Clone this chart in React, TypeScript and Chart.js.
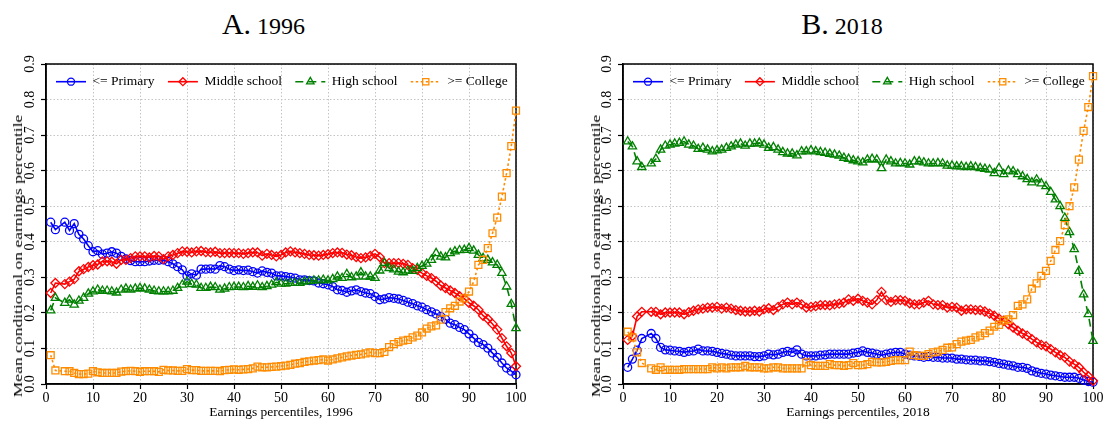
import React, { useEffect, useRef } from 'react';
import { Chart, registerables } from 'chart.js';

Chart.register(...registerables);

// ---------- data ----------
const percentiles = [
  1, 2, 3, 4, 5, 6, 7, 8, 9, 10, 11, 12, 13, 14, 15, 16, 17, 18, 19, 20,
  21, 22, 23, 24, 25, 26, 27, 28, 29, 30, 31, 32, 33, 34, 35, 36, 37, 38, 39, 40,
  41, 42, 43, 44, 45, 46, 47, 48, 49, 50, 51, 52, 53, 54, 55, 56, 57, 58, 59, 60,
  61, 62, 63, 64, 65, 66, 67, 68, 69, 70, 71, 72, 73, 74, 75, 76, 77, 78, 79, 80,
  81, 82, 83, 84, 85, 86, 87, 88, 89, 90, 91, 92, 93, 94, 95, 96, 97, 98, 99, 100,
];

const seriesNames = ['<= Primary', 'Middle school', 'High school', '>= College'];

// 1996
const primary1996 = [
  0.455, 0.434, null, 0.455, 0.432, 0.451, 0.421, 0.408, 0.389, 0.372,
  0.375, 0.365, 0.368, 0.372, 0.368, 0.359, 0.352, 0.347, 0.344, 0.344,
  0.344, 0.346, 0.348, 0.348, 0.349, 0.344, 0.338, 0.330, 0.321, 0.304,
  0.310, 0.306, 0.323, 0.323, 0.324, 0.323, 0.333, 0.330, 0.323, 0.319,
  0.321, 0.319, 0.320, 0.316, 0.312, 0.318, 0.314, 0.312, 0.304, 0.304,
  0.302, 0.300, 0.298, 0.293, 0.293, 0.291, 0.290, 0.284, 0.282, 0.279,
  0.274, 0.265, 0.263, 0.258, 0.262, 0.265, 0.260, 0.256, 0.254, 0.246,
  0.237, 0.239, 0.243, 0.241, 0.239, 0.235, 0.230, 0.226, 0.220, 0.216,
  0.209, 0.203, 0.197, 0.190, 0.182, 0.171, 0.167, 0.159, 0.153, 0.141,
  0.129, 0.117, 0.111, 0.101, 0.087, 0.075, 0.059, 0.045, 0.036, 0.026,
];
const middle1996 = [
  0.256, 0.284, null, 0.281, 0.288, 0.295, 0.317, 0.323, 0.329, 0.334,
  0.336, 0.345, 0.345, 0.344, 0.338, 0.349, 0.349, 0.354, 0.359, 0.359,
  0.359, 0.356, 0.360, 0.359, 0.351, 0.359, 0.363, 0.368, 0.373, 0.372,
  0.370, 0.373, 0.374, 0.371, 0.370, 0.372, 0.368, 0.368, 0.369, 0.368,
  0.368, 0.366, 0.368, 0.370, 0.370, 0.361, 0.366, 0.363, 0.359, 0.363,
  0.370, 0.373, 0.370, 0.368, 0.366, 0.363, 0.362, 0.361, 0.363, 0.365,
  0.368, 0.370, 0.369, 0.364, 0.362, 0.357, 0.354, 0.356, 0.360, 0.366,
  0.357, 0.340, 0.340, 0.340, 0.340, 0.338, 0.335, 0.326, 0.321, 0.312,
  0.304, 0.298, 0.289, 0.277, 0.270, 0.263, 0.256, 0.247, 0.240, 0.228,
  0.220, 0.209, 0.192, 0.183, 0.169, 0.153, 0.129, 0.106, 0.087, 0.050,
];
const high1996 = [
  0.207, 0.242, null, 0.228, 0.237, 0.223, 0.234, 0.242, 0.254, 0.260,
  0.265, 0.262, 0.262, 0.260, 0.257, 0.265, 0.268, 0.265, 0.268, 0.270,
  0.268, 0.265, 0.262, 0.260, 0.260, 0.260, 0.262, 0.270, 0.279, 0.288,
  0.281, 0.279, 0.270, 0.270, 0.273, 0.272, 0.265, 0.268, 0.272, 0.273,
  0.273, 0.272, 0.275, 0.273, 0.277, 0.272, 0.275, 0.279, 0.286, 0.282,
  0.282, 0.284, 0.284, 0.284, 0.288, 0.289, 0.291, 0.291, 0.293, 0.291,
  0.295, 0.302, 0.298, 0.309, 0.300, 0.302, 0.314, 0.302, 0.302, 0.298,
  0.319, 0.340, 0.326, 0.322, 0.316, 0.314, 0.319, 0.318, 0.326, 0.332,
  0.338, 0.349, 0.368, 0.358, 0.356, 0.368, 0.373, 0.376, 0.377, 0.382,
  0.375, 0.363, 0.354, 0.349, 0.342, 0.335, 0.312, 0.274, 0.225, 0.157,
];
const college1996 = [
  0.081, 0.038, null, 0.036, 0.036, 0.031, 0.028, 0.028, 0.029, 0.036,
  0.033, 0.031, 0.031, 0.031, 0.031, 0.035, 0.036, 0.037, 0.036, 0.034,
  0.036, 0.036, 0.036, 0.034, 0.040, 0.038, 0.038, 0.037, 0.037, 0.042,
  0.039, 0.039, 0.037, 0.037, 0.037, 0.037, 0.036, 0.039, 0.040, 0.041,
  0.040, 0.041, 0.042, 0.044, 0.049, 0.047, 0.047, 0.048, 0.049, 0.050,
  0.052, 0.054, 0.057, 0.059, 0.062, 0.064, 0.066, 0.067, 0.069, 0.066,
  0.069, 0.072, 0.075, 0.078, 0.080, 0.082, 0.083, 0.086, 0.089, 0.087,
  0.087, 0.090, 0.104, 0.112, 0.118, 0.122, 0.124, 0.131, 0.136, 0.145,
  0.156, 0.162, 0.165, 0.181, 0.202, 0.213, 0.220, 0.232, 0.241, 0.260,
  0.288, 0.335, 0.349, 0.382, 0.424, 0.468, 0.527, 0.593, 0.669, 0.769,
];

// 2018
const primary2018 = [
  0.047, 0.070, 0.095, 0.128, null, 0.142, 0.128, 0.103, 0.096, 0.095,
  0.093, 0.092, 0.089, 0.092, 0.093, 0.098, 0.093, 0.093, 0.092, 0.089,
  0.086, 0.084, 0.081, 0.079, 0.079, 0.079, 0.079, 0.077, 0.077, 0.079,
  0.084, 0.082, 0.084, 0.089, 0.092, 0.089, 0.096, 0.084, 0.079, 0.079,
  0.079, 0.081, 0.082, 0.084, 0.084, 0.084, 0.084, 0.084, 0.087, 0.089,
  0.093, 0.089, 0.087, 0.084, 0.081, 0.084, 0.087, 0.089, 0.089, 0.084,
  0.081, 0.079, 0.078, 0.075, 0.077, 0.075, 0.075, 0.073, 0.073, 0.073,
  0.070, 0.070, 0.068, 0.067, 0.067, 0.065, 0.065, 0.063, 0.061, 0.058,
  0.056, 0.053, 0.051, 0.047, 0.047, 0.044, 0.037, 0.033, 0.030, 0.028,
  0.025, 0.023, 0.021, 0.019, 0.019, 0.019, 0.016, 0.011, 0.007, 0.005,
];
const middle2018 = [
  0.124, 0.135, 0.190, 0.203, null, 0.203, 0.203, 0.196, 0.201, 0.201,
  0.201, 0.201, 0.196, 0.202, 0.206, 0.210, 0.212, 0.215, 0.215, 0.217,
  0.212, 0.215, 0.212, 0.208, 0.206, 0.204, 0.204, 0.206, 0.204, 0.210,
  0.213, 0.208, 0.217, 0.224, 0.229, 0.224, 0.229, 0.224, 0.215, 0.217,
  0.219, 0.222, 0.222, 0.221, 0.224, 0.226, 0.229, 0.238, 0.234, 0.240,
  0.234, 0.229, 0.224, 0.236, 0.259, 0.236, 0.231, 0.236, 0.236, 0.234,
  0.227, 0.224, 0.224, 0.229, 0.234, 0.224, 0.222, 0.222, 0.215, 0.217,
  0.215, 0.206, 0.210, 0.210, 0.208, 0.208, 0.204, 0.198, 0.192, 0.184,
  0.178, 0.168, 0.159, 0.150, 0.142, 0.136, 0.126, 0.117, 0.110, 0.106,
  0.098, 0.089, 0.081, 0.075, 0.063, 0.056, 0.047, 0.033, 0.022, 0.009,
];
const high2018 = [
  0.682, 0.668, 0.626, 0.610, null, 0.620, 0.633, 0.659, 0.670, 0.673,
  0.676, 0.678, 0.682, 0.673, 0.670, 0.661, 0.664, 0.659, 0.654, 0.657,
  0.659, 0.664, 0.668, 0.673, 0.676, 0.670, 0.676, 0.676, 0.678, 0.673,
  0.664, 0.666, 0.659, 0.652, 0.648, 0.648, 0.643, 0.654, 0.654, 0.657,
  0.654, 0.652, 0.650, 0.647, 0.645, 0.642, 0.636, 0.633, 0.629, 0.626,
  0.623, 0.631, 0.633, 0.631, 0.607, 0.631, 0.626, 0.620, 0.621, 0.620,
  0.617, 0.626, 0.626, 0.623, 0.620, 0.620, 0.621, 0.620, 0.614, 0.614,
  0.612, 0.612, 0.610, 0.612, 0.610, 0.607, 0.605, 0.603, 0.593, 0.607,
  0.590, 0.600, 0.598, 0.590, 0.584, 0.576, 0.567, 0.575, 0.564, 0.556,
  0.540, 0.519, 0.500, 0.467, 0.427, 0.379, 0.318, 0.252, 0.196, 0.121,
];
const college2018 = [
  0.147, 0.131, 0.089, 0.059, null, 0.044, 0.040, 0.047, 0.040, 0.040,
  0.040, 0.040, 0.042, 0.042, 0.042, 0.042, 0.042, 0.042, 0.047, 0.044,
  0.047, 0.044, 0.047, 0.047, 0.047, 0.051, 0.047, 0.047, 0.047, 0.044,
  0.044, 0.047, 0.047, 0.044, 0.044, 0.044, 0.044, 0.044, 0.061, 0.053,
  0.051, 0.051, 0.051, 0.056, 0.053, 0.053, 0.051, 0.053, 0.059, 0.053,
  0.053, 0.056, 0.062, 0.061, 0.061, 0.062, 0.065, 0.067, 0.067, 0.067,
  0.091, 0.081, 0.079, 0.079, 0.084, 0.089, 0.091, 0.096, 0.102, 0.103,
  0.112, 0.119, 0.122, 0.124, 0.131, 0.136, 0.143, 0.150, 0.161, 0.166,
  0.178, 0.182, 0.194, 0.220, 0.224, 0.238, 0.268, 0.283, 0.304, 0.318,
  0.346, 0.377, 0.402, 0.447, 0.500, 0.553, 0.631, 0.712, 0.779, 0.866,
];

// ---------- styles ----------
const SERIF = '"Liberation Serif", "Times New Roman", serif';
const seriesStyles = [
  { color: '#0000ff', dash: [] as number[], pointStyle: 'circle', radius: 4 },
  { color: '#ff0000', dash: [] as number[], pointStyle: 'rectRot', radius: 4.5 },
  { color: '#008000', dash: [8, 5], pointStyle: 'triangle', radius: 4.8 },
  { color: '#ff8c00', dash: [2.5, 2.5], pointStyle: 'rect', radius: 4.9 },
];

function drawMarker(ctx: CanvasRenderingContext2D, style: string, x: number, y: number, r: number) {
  ctx.beginPath();
  if (style === 'circle') {
    ctx.arc(x, y, r, 0, Math.PI * 2);
  } else if (style === 'rectRot') {
    ctx.moveTo(x - r, y);
    ctx.lineTo(x, y - r);
    ctx.lineTo(x + r, y);
    ctx.lineTo(x, y + r);
    ctx.closePath();
  } else if (style === 'triangle') {
    ctx.moveTo(x, y - r);
    ctx.lineTo(x + 0.866 * r, y + 0.5 * r);
    ctx.lineTo(x - 0.866 * r, y + 0.5 * r);
    ctx.closePath();
  } else {
    const s = r * Math.SQRT1_2;
    ctx.rect(x - s, y - s, 2 * s, 2 * s);
  }
  ctx.stroke();
}

const framePlugin = {
  id: 'frameBox',
  beforeDatasetsDraw(chart: any) {
    const { ctx, chartArea: a } = chart;
    ctx.save();
    ctx.strokeStyle = '#000';
    ctx.lineWidth = 1.5;
    ctx.setLineDash([]);
    ctx.strokeRect(a.left, a.top, a.right - a.left, a.bottom - a.top);
    ctx.restore();
  },
};

const insideLegendPlugin = {
  id: 'insideLegend',
  afterDatasetsDraw(chart: any) {
    const { ctx, chartArea } = chart;
    ctx.save();
    ctx.font = `13.5px ${SERIF}`;
    ctx.textBaseline = 'middle';
    ctx.textAlign = 'left';
    let x = chartArea.left + 10;
    const y = chartArea.top + 17.7;
    chart.data.datasets.forEach((ds: any) => {
      ctx.strokeStyle = ds.borderColor;
      ctx.lineWidth = ds.borderWidth;
      ctx.setLineDash(ds.borderDash || []);
      ctx.beginPath();
      ctx.moveTo(x, y);
      ctx.lineTo(x + 30, y);
      ctx.stroke();
      ctx.setLineDash([]);
      ctx.lineWidth = ds.pointBorderWidth;
      drawMarker(ctx, ds.pointStyle, x + 15, y, ds.pointRadius - 0.5);
      ctx.fillStyle = '#000';
      ctx.fillText(ds.label, x + 36.5, y);
      x += 36.5 + ctx.measureText(ds.label).width + 13.3;
    });
    ctx.restore();
  },
};

function axisCommon() {
  return {
    grid: {
      color: '#c4c4c4',
      lineWidth: 1,
      tickLength: 5,
      tickColor: '#000',
      tickWidth: 1.2,
      tickBorderDash: [],
    },
    border: { display: true, color: '#000', width: 1.5, dash: [1.5, 2] },
  };
}

type PanelProps = {
  left: number;
  letter: string;
  year: string;
  titleCenter: number;
  yTitleX: number;
  values: (number | null)[][];
};

function Panel({ left, letter, year, titleCenter, yTitleX, values }: PanelProps) {
  const ref = useRef<HTMLCanvasElement>(null);

  useEffect(() => {
    const datasets = values.map((vals, i) => {
      const st = seriesStyles[i];
      return {
        label: seriesNames[i],
        data: percentiles.map((p, j) => ({ x: p, y: vals[j] })),
        borderColor: st.color,
        backgroundColor: 'rgba(0,0,0,0)',
        borderWidth: 1.6,
        borderDash: st.dash,
        pointStyle: st.pointStyle,
        pointRadius: st.radius,
        pointBorderWidth: 1.3,
        pointBorderColor: st.color,
        pointBackgroundColor: 'rgba(0,0,0,0)',
        tension: 0,
        spanGaps: true,
        clip: false,
        order: 3 - i,
      };
    });
    const common = axisCommon();
    const chart = new Chart(ref.current as HTMLCanvasElement, {
      type: 'line',
      data: { datasets } as any,
      options: {
        animation: false,
        responsive: false,
        devicePixelRatio: 1,
        layout: { padding: { top: 64, right: 14, bottom: 0, left: 0 } },
        plugins: { legend: { display: false }, tooltip: { enabled: false }, title: { display: false } },
        scales: {
          x: {
            type: 'linear',
            min: 0,
            max: 100,
            ticks: {
              stepSize: 10,
              autoSkip: false,
              maxRotation: 0,
              padding: 1,
              color: '#000',
              font: { family: SERIF, size: 14 },
            },
            ...common,
            title: {
              display: true,
              text: `Earnings percentiles, ${year}`,
              color: '#000',
              font: { family: SERIF, size: 13.5 },
              padding: { top: 0, bottom: 2 },
            },
            afterFit: (s: any) => {
              s.height = 39;
            },
          },
          y: {
            type: 'linear',
            min: 0,
            max: 0.9,
            ticks: {
              stepSize: 0.1,
              minRotation: 90,
              maxRotation: 90,
              crossAlign: 'center',
              padding: 2,
              color: '#000',
              font: { family: SERIF, size: 14 },
              callback: (v: any) => Number(v).toFixed(1),
            },
            ...common,
            afterFit: (s: any) => {
              s.width = 46;
            },
          },
        },
      } as any,
      plugins: [framePlugin, insideLegendPlugin],
    });
    return () => chart.destroy();
  }, []);

  return (
    <>
      <div
        style={{
          position: 'absolute',
          left: titleCenter - 150,
          width: 300,
          top: 8,
          lineHeight: '32px',
          textAlign: 'center',
          fontFamily: SERIF,
          color: '#000',
          whiteSpace: 'nowrap',
        }}
      >
        <span style={{ fontSize: 30 }}>{letter}</span>
        <span style={{ fontSize: 24 }}> {year}</span>
      </div>
      <canvas
        ref={ref}
        width={530}
        height={423}
        style={{ position: 'absolute', left, top: 0, width: 530, height: 423 }}
      />
      <div
        style={{
          position: 'absolute',
          left: yTitleX,
          top: 256,
          transform: 'translate(-50%, -50%) rotate(-90deg) scaleX(1.3)',
          fontFamily: SERIF,
          fontSize: 13.5,
          lineHeight: '16px',
          whiteSpace: 'nowrap',
          color: '#000',
        }}
      >
        Mean conditional on earnings percentile
      </div>
    </>
  );
}

export default function App() {
  return (
    <div
      style={{
        position: 'absolute',
        left: 0,
        top: 0,
        width: 1107,
        height: 423,
        background: '#fff',
        overflow: 'hidden',
      }}
    >
      <Panel
        left={0}
        letter="A."
        year="1996"
        titleCenter={263.5}
        yTitleX={18}
        values={[primary1996, middle1996, high1996, college1996]}
      />
      <Panel
        left={577}
        letter="B."
        year="2018"
        titleCenter={842}
        yTitleX={596}
        values={[primary2018, middle2018, high2018, college2018]}
      />
    </div>
  );
}
